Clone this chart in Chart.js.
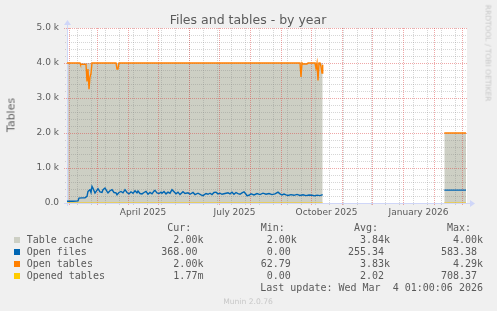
<!DOCTYPE html>
<html>
<head>
<meta charset="utf-8">
<script src="https://cdn.jsdelivr.net/npm/chart.js@4"></script>
<style>
  html, body { margin:0; padding:0; background:#f0f0f0; }
  #wrap { position:relative; width:497px; height:311px; overflow:hidden; }
  canvas { position:absolute; left:0; top:0; }
  .t { position:absolute; white-space:pre; color:#5a5a5a; }
  .mono { font-family:"DejaVu Sans Mono", monospace; font-size:10px; line-height:12px; }
  .sq { position:absolute; width:6px; height:6px; }
</style>
</head>
<body>
<div id="wrap">
  <canvas id="c" width="497" height="311"></canvas>
</div>
<script>
// ---- data (x = days since 1 Jan 2025) ----
const monthStarts = [31, 59, 90, 120, 151, 181, 212, 243, 273, 304, 334, 365, 396, 424];
const labelDays = [105, 196.5, 288.5, 380.5];
const monthLabels = ['April 2025', 'July 2025', 'October 2025', 'January 2026'];
const yTickValues = [0, 1000, 2000, 3000, 4000, 5000];
const yTickLabels = ['0.0', '1.0 k', '2.0 k', '3.0 k', '4.0 k', '5.0 k'];

const tableCacheDays   = [29, 284.7, 285, 406.3, 428];
const tableCacheValues = [4000, 4000, null, 2000, 2000];

const openTablesDays   = [29, 42, 42.5, 48, 49, 50, 51, 52, 53, 54, 78, 79, 80, 81, 262, 263, 264, 265, 269, 270, 277, 278, 279, 280, 281, 282, 283, 284, 284.7, 285, 406.3, 428];
const openTablesValues = [4000, 4000, 3960, 3960, 3475, 3830, 3250, 3600, 3700, 4000, 4000, 3830, 3830, 4000, 4000, 3600, 4000, 3970, 3970, 4000, 4000, 3850, 4000, 3500, 4000, 4000, 3900, 3710, 3950, null, 2000, 2000];

const openFilesDays = [29, 32, 35, 38, 40, 41, 44, 47, 49, 50, 52, 53, 54, 55, 57, 59, 60, 62, 64, 65, 67, 69, 70, 72, 74, 76, 78, 79, 81, 83, 85, 87, 89, 91, 93, 95, 97, 99, 100, 102, 104, 106, 108, 110, 112, 114, 116, 117, 119, 121, 123, 124, 126, 128, 130, 132, 134, 137, 138, 140, 142, 145, 147, 150, 152, 155, 157, 160, 163, 165, 168, 170, 172, 174, 176, 178, 180, 182, 184, 187, 190, 192, 194, 196, 198, 200, 202, 204, 206, 208, 209, 211, 213, 216, 219, 222, 225, 228, 231, 234, 237, 240, 242, 244, 246, 248, 250, 253, 256, 259, 262, 265, 268, 271, 274, 277, 279, 282, 284.7, 285, 406.3, 428];
const openFilesValues = [50, 52, 48, 55, 60, 140, 145, 150, 190, 330, 380, 300, 475, 420, 285, 370, 410, 320, 303, 380, 428, 330, 290, 350, 380, 300, 290, 237, 300, 330, 290, 380, 300, 260, 320, 280, 350, 290, 340, 270, 260, 300, 330, 250, 300, 260, 340, 360, 290, 270, 310, 280, 330, 260, 310, 280, 380, 290, 260, 310, 240, 320, 270, 290, 250, 300, 240, 280, 230, 210, 270, 250, 280, 240, 300, 310, 260, 280, 250, 270, 290, 260, 310, 250, 300, 270, 250, 290, 320, 250, 210, 220, 260, 230, 270, 240, 280, 250, 270, 240, 260, 310, 260, 230, 255, 230, 215, 240, 220, 245, 215, 235, 210, 230, 220, 205, 225, 210, 240, null, 368, 368];

const openedTablesDays   = [29, 284.7, 285, 406.3, 428];
const openedTablesValues = [0, 0, null, 0, 0];

const legendLabels = ['Table cache', 'Open files', 'Open tables', 'Opened tables'];
const legendColors = ['#cdcfc4', '#0066b3', '#ff8000', '#ffcc00'];
const curValues = ['2.00k', '368.00', '2.00k', '1.77m'];
const minValues = ['2.00k', '0.00', '62.79', '0.00'];
const avgValues = ['3.84k', '255.34', '3.83k', '2.02'];
const maxValues = ['4.00k', '583.38', '4.29k', '708.37'];

// ---- helpers ----
const zip = (xs, ys) => xs.map((x, i) => ({ x: x, y: ys[i] }));

const bgPlugin = {
  id: 'bg',
  beforeDraw(chart) {
    const c = chart.ctx, a = chart.chartArea;
    c.save();
    c.fillStyle = '#f0f0f0';
    c.fillRect(0, 0, chart.width, chart.height);
    c.fillStyle = '#ffffff';
    c.fillRect(a.left, a.top, a.right - a.left, a.bottom - a.top);
    c.restore();
  }
};

const gridPlugin = {
  id: 'rrdgrid',
  afterDatasetDraw(chart, args) {
    if (args.index !== 0) return;
    const c = chart.ctx, a = chart.chartArea;
    const xs = chart.scales.x, ys = chart.scales.y;
    c.save();
    c.lineWidth = 1;
    c.setLineDash([1, 1]);
    // minor horizontal
    c.strokeStyle = 'rgba(130,130,130,0.33)';
    for (let v = 200; v <= 5000; v += 200) {
      if (v % 1000 === 0) continue;
      const y = Math.round(ys.getPixelForValue(v)) + 0.5;
      c.beginPath(); c.moveTo(a.left - 2, y); c.lineTo(a.right, y); c.stroke();
    }
    // minor vertical (every 14 days)
    for (let d = 39; d < 429; d += 14) {
      const x = Math.round(xs.getPixelForValue(d)) + 0.5;
      c.beginPath(); c.moveTo(x, a.top); c.lineTo(x, a.bottom + 2); c.stroke();
    }
    // major
    c.strokeStyle = 'rgba(220,60,60,0.45)';
    for (let v = 1000; v <= 5000; v += 1000) {
      const y = Math.round(ys.getPixelForValue(v)) + 0.5;
      c.beginPath(); c.moveTo(a.left - 3, y); c.lineTo(a.right, y); c.stroke();
    }
    monthStarts.forEach(d => {
      const x = Math.round(xs.getPixelForValue(d)) + 0.5;
      c.beginPath(); c.moveTo(x, a.top); c.lineTo(x, a.bottom + 3); c.stroke();
    });
    c.setLineDash([]);
    // axes
    c.strokeStyle = '#cfd6f8';
    c.fillStyle = '#cfd6f8';
    const y0 = Math.round(ys.getPixelForValue(0)) + 0.5;
    const x0 = Math.round(xs.getPixelForValue(29)) + 0.5;
    c.beginPath(); c.moveTo(a.left - 3, y0); c.lineTo(a.right + 4, y0); c.stroke();
    c.beginPath(); c.moveTo(x0, a.bottom + 3); c.lineTo(x0, a.top - 4); c.stroke();
    c.beginPath(); c.moveTo(a.right + 3, y0 - 3.5); c.lineTo(a.right + 8, y0); c.lineTo(a.right + 3, y0 + 3.5); c.closePath(); c.fill();
    c.beginPath(); c.moveTo(x0 - 3.5, a.top - 3); c.lineTo(x0, a.top - 8); c.lineTo(x0 + 3.5, a.top - 3); c.closePath(); c.fill();
    c.restore();
  }
};

const tickFont = { family: 'DejaVu Sans', size: 9 };
const tickColor = '#5a5a5a';

new Chart(document.getElementById('c'), {
  type: 'line',
  data: {
    datasets: [
      { label: legendLabels[0], data: zip(tableCacheDays, tableCacheValues), backgroundColor: legendColors[0], borderColor: 'rgba(0,0,0,0)', borderWidth: 0, fill: 'origin', pointRadius: 0, order: 4 },
      { label: legendLabels[1], data: zip(openFilesDays, openFilesValues), borderColor: legendColors[1], borderWidth: 1.4, fill: false, pointRadius: 0, order: 3 },
      { label: legendLabels[2], data: zip(openTablesDays, openTablesValues), borderColor: legendColors[2], borderWidth: 1.4, fill: false, pointRadius: 0, order: 2 },
      { label: legendLabels[3], data: zip(openedTablesDays, openedTablesValues), borderColor: legendColors[3], borderWidth: 1.2, fill: false, pointRadius: 0, order: 1 }
    ]
  },
  options: {
    animation: false,
    responsive: false,
    devicePixelRatio: 1,
    spanGaps: false,
    layout: { padding: { left: 0, right: 30, top: 28, bottom: 0 } },
    elements: { line: { tension: 0 } },
    plugins: { legend: { display: false }, tooltip: { enabled: false }, title: { display: false } },
    scales: {
      x: {
        type: 'linear', min: 29, max: 429,
        afterFit: s => { s.height = 108; },
        afterBuildTicks: s => { s.ticks = labelDays.map(v => ({ value: v })); },
        ticks: { callback: (v, i) => monthLabels[i], color: tickColor, font: tickFont, padding: 4, maxRotation: 0, autoSkip: false },
        grid: { display: false, drawTicks: false },
        border: { display: false }
      },
      y: {
        min: 0, max: 5000,
        afterFit: s => { s.width = 67; },
        afterBuildTicks: s => { s.ticks = yTickValues.map(v => ({ value: v })); },
        ticks: { callback: (v, i) => yTickLabels[i], color: tickColor, font: tickFont, padding: 8, autoSkip: false },
        grid: { display: false, drawTicks: false },
        border: { display: false }
      }
    }
  },
  plugins: [bgPlugin, gridPlugin]
});

// ---- text overlays ----
const wrap = document.getElementById('wrap');
function addText(txt, css, cls) {
  const d = document.createElement('div');
  d.className = 't' + (cls ? ' ' + cls : '');
  d.textContent = txt;
  Object.assign(d.style, css);
  wrap.appendChild(d);
  return d;
}
addText('Files and tables - by year', { left: '248px', top: '19px', transform: 'translate(-50%,-50%)', fontFamily: 'DejaVu Sans', fontSize: '12.5px', lineHeight: '15px', color: '#5a5a5a' });
addText('Tables', { left: '10.5px', top: '114.5px', transform: 'translate(-50%,-50%) rotate(-90deg)', fontFamily: 'DejaVu Sans', fontSize: '11px', lineHeight: '13px', color: '#666' });
addText('RRDTOOL / TOBI OETIKER', { left: '487.5px', top: '53px', transform: 'translate(-50%,-50%) rotate(90deg)', fontFamily: 'DejaVu Sans', fontSize: '7.5px', lineHeight: '9px', color: '#c8c8c8' });

const colStarts = [161.3, 254.7, 348, 441];
const headers = ['Cur:', 'Min:', 'Avg:', 'Max:'];
const cw = 6.02;
headers.forEach((h, i) => addText(h, { left: (colStarts[i] + cw) + 'px', top: '222px' }, 'mono'));
const fmt = v => (/[a-z]$/i.test(v) ? v : v + ' ').padStart(7, ' ');
const cols = [curValues, minValues, avgValues, maxValues];
legendLabels.forEach((lab, r) => {
  const top = 234 + r * 12;
  const sq = document.createElement('div');
  sq.className = 'sq';
  Object.assign(sq.style, { left: '14px', top: (top + 3) + 'px', background: legendColors[r] });
  wrap.appendChild(sq);
  addText(lab, { left: '26.7px', top: top + 'px' }, 'mono');
  cols.forEach((arr, c) => addText(fmt(arr[r]), { left: colStarts[c] + 'px', top: top + 'px' }, 'mono'));
});
addText('Last update: Wed Mar  4 01:00:06 2026', { right: '14px', top: '281.5px' }, 'mono');
addText('Munin 2.0.76', { left: '248px', top: '300.5px', transform: 'translate(-50%,-50%)', fontFamily: 'DejaVu Sans', fontSize: '7.6px', lineHeight: '9px', color: '#c8c8c8' });
</script>
</body>
</html>
